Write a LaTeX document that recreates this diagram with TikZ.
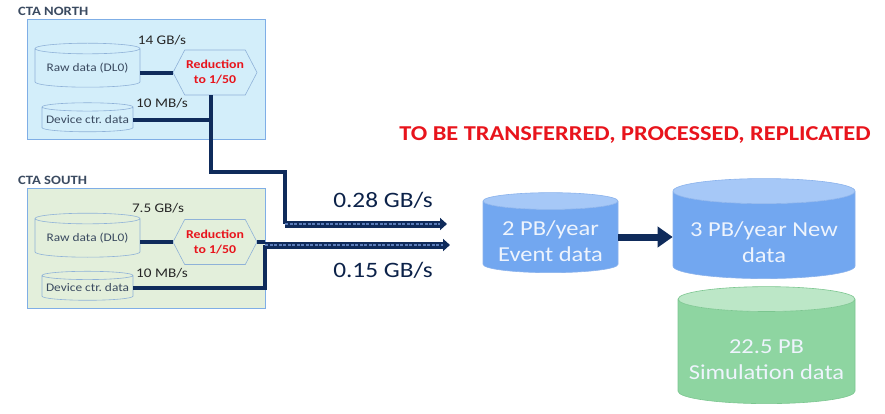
\documentclass[tikz,border=0pt]{standalone}
\usepackage{fontspec}
\setmainfont{Carlito}[FakeStretch=1.15]
\usetikzlibrary{shapes.geometric,shapes.symbols,arrows.meta,positioning}

\definecolor{navy}{HTML}{0F2B5B}
\definecolor{stripe}{HTML}{5A7CBA}
\definecolor{northfill}{HTML}{D3EEFA}
\definecolor{southfill}{HTML}{E3EFDB}
\definecolor{siteline}{HTML}{7FAEE6}
\definecolor{diskline}{HTML}{8FB2D8}
\definecolor{darktxt}{HTML}{3A4A60}
\definecolor{redtxt}{HTML}{E8141C}
\definecolor{evfill}{HTML}{72A7F0}
\definecolor{evtop}{HTML}{A6C8F7}
\definecolor{evline}{HTML}{8AB2EC}
\definecolor{simfill}{HTML}{8ED5A1}
\definecolor{simtop}{HTML}{BCE7C7}
\definecolor{simline}{HTML}{7CC690}
\definecolor{lighttxt}{HTML}{EEF4FD}

% lower a two-line label inside a cylinder without changing its size
\newcommand{\droptext}[2]{\raisebox{-#1}[\height][\depth]{\begin{tabular}{@{}c@{}}#2\end{tabular}}}

\begin{document}
\begin{tikzpicture}[
  x=1pt,y=-1pt,
  every node/.style={inner sep=0pt},
  site/.style={draw=siteline, line width=0.8pt},
  sitename/.style={anchor=west, text=darktxt, font=\bfseries\fontsize{12.7}{15}\selectfont},
  rate/.style={text=black!85, font=\fontsize{13.2}{15}\selectfont},
  disk/.style={cylinder, shape border rotate=90, draw=diskline, line width=0.6pt,
    text=darktxt, font=\fontsize{11.6}{14}\selectfont},
  reduce/.style={signal, signal to=east and west, signal pointer angle=125,
    draw=diskline, line width=0.6pt, text=redtxt, align=center,
    font=\bfseries\fontsize{12}{15}\selectfont, minimum width=84pt, minimum height=45pt},
  store/.style={cylinder, shape border rotate=90, cylinder uses custom fill,
    line width=0.6pt, text=lighttxt, font=\fontsize{21.3}{26}\selectfont},
  link/.style={draw=navy, line width=4pt},
  flow/.style={draw=navy, line width=7pt, -{Triangle[length=7pt,width=12pt]},
    postaction={draw=stripe, line width=1.6pt, dash pattern=on 3pt off 1.5pt, -, shorten >=7pt}},
  ]
  \useasboundingbox (0,0) rectangle (885,413);

  % CTA North
  \node[sitename] (northname) at (18,11) {CTA NORTH};
  \path[site, fill=northfill] (27,19) rectangle (265,139);
  \node[disk, fill=northfill, minimum width=105pt, minimum height=44pt, aspect=0.13] (rawN) at (87.5,68) {Raw data (DL0)};
  \node[disk, fill=northfill, minimum width=91pt, minimum height=29pt, aspect=0.1] (devN) at (87.5,119.5) {Device ctr.\ data};
  \node[reduce, fill=northfill] (hexN) at (215,72.5) {Reduction\\to 1/50};
  \node[rate] (rateRawN) at (162,40) {14 GB/s};
  \node[rate] (rateDevN) at (162,103) {10 MB/s};

  % CTA South
  \node[sitename] (southname) at (18,180) {CTA SOUTH};
  \path[site, fill=southfill] (27,188) rectangle (265,308);
  \node[disk, fill=southfill, minimum width=105pt, minimum height=44pt, aspect=0.13] (rawS) at (87.5,238) {Raw data (DL0)};
  \node[disk, fill=southfill, minimum width=91pt, minimum height=29pt, aspect=0.1] (devS) at (87.5,288) {Device ctr.\ data};
  \node[reduce, fill=southfill] (hexS) at (215,242) {Reduction\\to 1/50};
  \node[rate] (rateRawS) at (158,208) {7.5 GB/s};
  \node[rate] (rateDevS) at (162,273) {10 MB/s};

  % connections inside the sites
  \coordinate (dropN) at ([xshift=-4pt]hexN.south);
  \coordinate (bendN) at (285,172);
  \coordinate (startN) at (285,224);
  \coordinate (endN) at (447,224);
  \coordinate (joinS) at (265,245);
  \coordinate (endS) at (450,245);
  \draw[link] (rawN.east |- hexN.west) -- (hexN.west);
  \draw[link] (devN.east) -- (devN.east -| dropN);
  \draw[link] (dropN) |- (bendN) -- (startN);
  \draw[link] (rawS.east |- hexS.west) -- (hexS.west);
  \draw[link] (hexS.east) -- (hexS.east -| joinS);
  \draw[link] (devS.east) -| (joinS);

  % transfer to the data centre
  \draw[flow] (startN) -- (endN);
  \draw[flow] (joinS) -- (endS);
  \node[text=navy!80!black, font=\fontsize{22}{26}\selectfont] (rateNorth) at (383,200) {0.28 GB/s};
  \node[text=navy!80!black, font=\fontsize{22}{26}\selectfont] (rateSouth) at (383,270) {0.15 GB/s};

  % data volumes
  \node[text=redtxt, font=\bfseries\fontsize{21.2}{25}\selectfont] (title) at (635,135) {TO BE TRANSFERRED, PROCESSED, REPLICATED};
  \node[store, cylinder body fill=evfill, cylinder end fill=evtop, draw=evline,
    minimum width=135pt, minimum height=80pt, aspect=0.16] (event) at (550.5,237) {\droptext{6pt}{2 PB/year\\Event data}};
  \node[store, cylinder body fill=evfill, cylinder end fill=evtop, draw=evline,
    minimum width=182pt, minimum height=100pt, aspect=0.17] (newdata) at (764,235) {\droptext{9pt}{3 PB/year New\\data}};
  \node[store, cylinder body fill=simfill, cylinder end fill=simtop, draw=simline,
    minimum width=177pt, minimum height=117pt, aspect=0.16] (sim) at (766.5,351.5) {\droptext{9.5pt}{22.5 PB\\Simulation data}};
  \draw[navy, line width=7pt, -{Triangle[length=15pt,width=20pt]}] (event.east) -- (event.east -| newdata.west);
\end{tikzpicture}
\end{document}
